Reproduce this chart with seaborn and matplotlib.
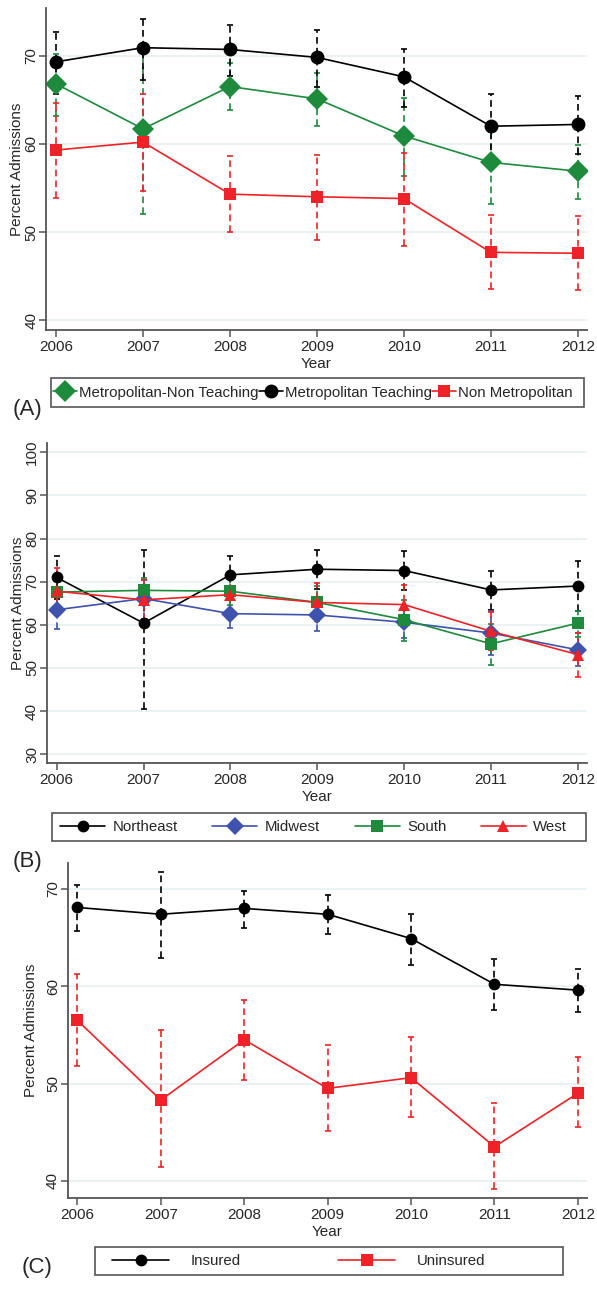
import matplotlib.pyplot as plt
from matplotlib.patches import Rectangle
import seaborn as sns

YEARS = [2006, 2007, 2008, 2009, 2010, 2011, 2012]

# Panel A - hospital type
A_NONTEACH = [66.8, 61.7, 66.5, 65.1, 60.9, 57.9, 56.9]
A_NONTEACH_LO = [63.2, 52.1, 63.8, 62.0, 56.4, 53.2, 53.8]
A_NONTEACH_HI = [70.2, 71.3, 69.2, 68.0, 65.2, 61.3, 59.9]
A_TEACH = [69.3, 70.9, 70.7, 69.8, 67.6, 62.0, 62.2]
A_TEACH_LO = [65.6, 67.2, 67.7, 66.5, 64.2, 58.1, 58.8]
A_TEACH_HI = [72.7, 74.2, 73.5, 72.9, 70.7, 65.6, 65.4]
A_NONMETRO = [59.3, 60.2, 54.3, 54.0, 53.8, 47.7, 47.6]
A_NONMETRO_LO = [53.9, 54.6, 50.0, 49.1, 48.4, 43.6, 43.4]
A_NONMETRO_HI = [64.6, 65.6, 58.6, 58.7, 59.0, 51.9, 51.8]

# Panel B - region
B_NORTHEAST = [71.0, 60.4, 71.6, 72.9, 72.6, 68.1, 69.0]
B_NORTHEAST_LO = [66.0, 40.5, 67.3, 68.4, 68.0, 63.4, 63.1]
B_NORTHEAST_HI = [76.0, 77.4, 75.9, 77.4, 77.2, 72.6, 74.8]
B_MIDWEST = [63.5, 66.1, 62.6, 62.3, 60.6, 58.1, 54.2]
B_MIDWEST_LO = [59.0, 61.4, 59.2, 58.5, 56.9, 53.1, 50.4]
B_MIDWEST_HI = [68.0, 70.5, 66.0, 66.1, 64.3, 63.1, 58.0]
B_SOUTH = [67.6, 68.0, 67.8, 65.2, 61.2, 55.6, 60.4]
B_SOUTH_LO = [64.7, 65.1, 64.7, 61.3, 56.2, 50.7, 57.3]
B_SOUTH_HI = [70.5, 70.9, 70.6, 69.1, 65.8, 60.3, 63.3]
B_WEST = [67.8, 65.8, 67.0, 65.2, 64.7, 58.5, 53.1]
B_WEST_LO = [62.4, 60.8, 62.9, 60.8, 60.4, 54.2, 47.9]
B_WEST_HI = [73.2, 70.5, 71.1, 69.7, 69.2, 62.9, 58.1]

# Panel C - insurance
C_INSURED = [68.1, 67.4, 68.0, 67.4, 64.9, 60.2, 59.6]
C_INSURED_LO = [65.7, 62.9, 66.0, 65.4, 62.2, 57.6, 57.4]
C_INSURED_HI = [70.4, 71.7, 69.8, 69.4, 67.4, 62.8, 61.8]
C_UNINSURED = [56.5, 48.3, 54.5, 49.5, 50.6, 43.5, 49.0]
C_UNINSURED_LO = [51.75, 41.4, 50.4, 45.1, 46.6, 39.2, 45.5]
C_UNINSURED_HI = [61.25, 55.5, 58.6, 54.0, 54.8, 48.0, 52.75]

BLACK = "#000000"
GREEN = "#1d8a3c"
RED = "#ee2227"
BLUE = "#3f52ad"
AXIS_GRAY = "#555555"
GRID = "#e9f1f2"

sns.set_style("white")
plt.rcParams["font.family"] = ["Liberation Sans", "DejaVu Sans"]
plt.rcParams["font.size"] = 11

W, H = 597, 1293
fig = plt.figure(figsize=(W / 100, H / 100), dpi=100)


def px_axes(left, top, right, bottom):
    return fig.add_axes([left / W, 1 - bottom / H, (right - left) / W, (bottom - top) / H])


def draw_panel(ax, series, ylim, yticks, ylabelpad):
    for label, mean, lo, hi, color, marker, ms in series:
        err = [[m - l for m, l in zip(mean, lo)], [h - m for m, h in zip(mean, hi)]]
        eb = ax.errorbar(YEARS, mean, yerr=err, fmt="none", ecolor=color,
                         elinewidth=1.2, capsize=2.5, capthick=1.2, zorder=1)
        eb[2][0].set_linestyle((0, (4, 2.5)))
    for label, mean, lo, hi, color, marker, ms in series:
        sns.lineplot(x=YEARS, y=mean, color=color, marker=marker, markersize=ms,
                     markeredgewidth=0, linewidth=1.2, label=label, ax=ax, zorder=2)
    handles, labels = ax.get_legend_handles_labels()
    ax.get_legend().remove()

    ax.set_xlim(YEARS[0] - 0.115, YEARS[-1] + 0.105)
    ax.set_ylim(*ylim)
    ax.set_xticks(YEARS)
    ax.set_yticks(yticks)
    ax.yaxis.grid(True, color=GRID, linewidth=1.3)
    ax.set_axisbelow(True)
    for side in ["top", "right"]:
        ax.spines[side].set_visible(False)
    for side in ["left", "bottom"]:
        ax.spines[side].set_color(AXIS_GRAY)
        ax.spines[side].set_linewidth(1.3)
    ax.tick_params(axis="both", direction="out", length=5, width=1.1,
                   color=AXIS_GRAY, labelsize=11, left=True, bottom=True)
    ax.tick_params(axis="x", pad=2)
    ax.tick_params(axis="y", pad=0.5)
    for t in ax.get_yticklabels():
        t.set_rotation(90)
        t.set_va("center")
    ax.set_xlabel("Year", fontsize=11, labelpad=2)
    ax.set_ylabel("Percent Admissions", fontsize=11, labelpad=ylabelpad)
    return handles, labels


def add_legend(ax, handles, labels, box, start_x, hl, tp, cs):
    left, top, right, bottom = box
    yc = (top + bottom) / 2
    fig.patches.append(Rectangle((left / W, 1 - bottom / H), (right - left) / W,
                                 (bottom - top) / H, transform=fig.transFigure,
                                 facecolor="none", edgecolor=AXIS_GRAY,
                                 linewidth=1.2, zorder=0))
    ax.legend(handles, labels, ncol=len(labels), loc="center left",
              bbox_to_anchor=(start_x / W, 1 - yc / H),
              bbox_transform=fig.transFigure, frameon=False, fontsize=10.8,
              handlelength=hl, handletextpad=tp, columnspacing=cs,
              borderpad=0, borderaxespad=0)


# Panel A
axA = px_axes(46, 8, 587, 330)
hA, lA = draw_panel(axA, [
    ("Metropolitan-Non Teaching", A_NONTEACH, A_NONTEACH_LO, A_NONTEACH_HI, GREEN, "D", 11.5),
    ("Metropolitan Teaching", A_TEACH, A_TEACH_LO, A_TEACH_HI, BLACK, "o", 10),
    ("Non Metropolitan", A_NONMETRO, A_NONMETRO_LO, A_NONMETRO_HI, RED, "s", 9),
], (38.9, 75.4), [40, 50, 60, 70], 0)
add_legend(axA, hA, lA, (51, 378, 584, 407), 53, 1.6, 0.15, 0.0)
fig.text(27 / W, 1 - 410 / H, "(A)", fontsize=16, ha="center", va="center")

# Panel B
axB = px_axes(46.7, 443.3, 587, 763.3)
hB, lB = draw_panel(axB, [
    ("Northeast", B_NORTHEAST, B_NORTHEAST_LO, B_NORTHEAST_HI, BLACK, "o", 8.5),
    ("Midwest", B_MIDWEST, B_MIDWEST_LO, B_MIDWEST_HI, BLUE, "D", 9.3),
    ("South", B_SOUTH, B_SOUTH_LO, B_SOUTH_HI, GREEN, "s", 8),
    ("West", B_WEST, B_WEST_LO, B_WEST_HI, RED, "^", 9),
], (27.9, 102.1), [30, 40, 50, 60, 70, 80, 90, 100], 0)
add_legend(axB, hB, lB, (52, 813, 586, 841), 60, 3.0, 0.5, 2.3)
fig.text(27 / W, 1 - 862 / H, "(B)", fontsize=16, ha="center", va="center")

# Panel C
axC = px_axes(67.7, 862.7, 586.7, 1198.3)
hC, lC = draw_panel(axC, [
    ("Insured", C_INSURED, C_INSURED_LO, C_INSURED_HI, BLACK, "o", 8.5),
    ("Uninsured", C_UNINSURED, C_UNINSURED_LO, C_UNINSURED_HI, RED, "s", 8.7),
], (38.2, 72.7), [40, 50, 60, 70], 6)
add_legend(axC, hC, lC, (95, 1247, 563, 1275), 112, 3.8, 1.45, 6.5)
fig.text(37 / W, 1 - 1268 / H, "(C)", fontsize=16, ha="center", va="center")

fig.savefig("out.png", dpi=100)
